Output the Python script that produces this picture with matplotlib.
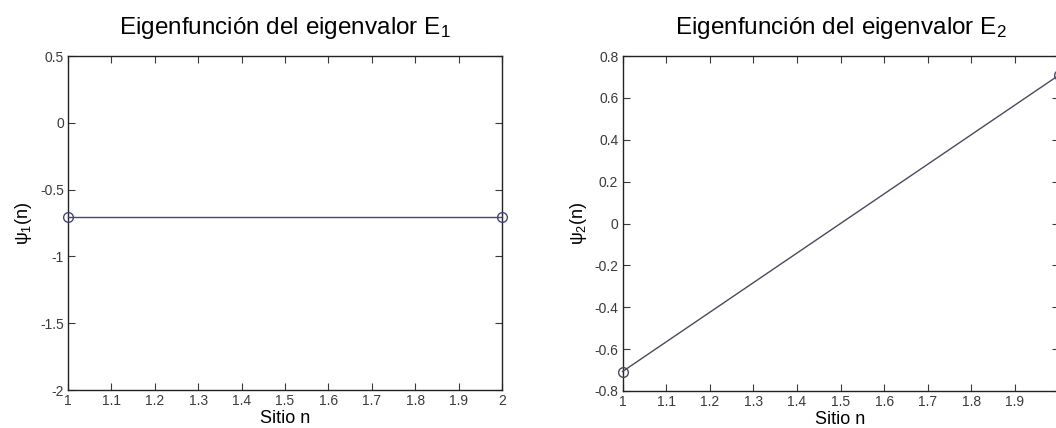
import matplotlib
matplotlib.use("Agg")
import matplotlib.pyplot as plt
import numpy as np

# Data
sites = [1, 2]
psi1 = [-0.7071, -0.7071]
psi2 = [-0.7071, 0.7071]
xticks = [1, 1.1, 1.2, 1.3, 1.4, 1.5, 1.6, 1.7, 1.8, 1.9, 2]
xticklabels = ["1", "1.1", "1.2", "1.3", "1.4", "1.5", "1.6", "1.7", "1.8", "1.9", "2"]
yticks1 = [-2, -1.5, -1, -0.5, 0, 0.5]
yticklabels1 = ["-2", "-1.5", "-1", "-0.5", "0", "0.5"]
yticks2 = [-0.8, -0.6, -0.4, -0.2, 0, 0.2, 0.4, 0.6, 0.8]
yticklabels2 = ["-0.8", "-0.6", "-0.4", "-0.2", "0", "0.2", "0.4", "0.6", "0.8"]
titles = ["Eigenfunción del eigenvalor E$_1$", "Eigenfunción del eigenvalor E$_2$"]
ylabels = [r"$\psi_1$(n)", r"$\psi_2$(n)"]
xlabel = "Sitio n"

plt.rcParams['font.family'] = ['Liberation Sans', 'DejaVu Sans']
plt.rcParams['mathtext.fontset'] = 'custom'
plt.rcParams['mathtext.rm'] = 'Liberation Sans'
plt.rcParams['mathtext.it'] = 'Liberation Sans'

fig = plt.figure(figsize=(10.56, 4.28), dpi=100)
ax1 = fig.add_axes([68/1056, (428-390)/428, 434/1056, (390-56)/428])
ax2 = fig.add_axes([622.5/1056, (428-391)/428, 436/1056, (391-56)/428])

specs = [
    (ax1, psi1, yticks1, yticklabels1, (-2, 0.5), "#45457e", titles[0], ylabels[0]),
    (ax2, psi2, yticks2, yticklabels2, (-0.8, 0.8), "#4a4a5e", titles[1], ylabels[1]),
]
for ax, ys, yt, ytl, ylim, col, title, ylab in specs:
    ax.plot(sites, ys, color=col, lw=1.0, marker='o', markersize=7,
            markerfacecolor='none', markeredgecolor=col, markeredgewidth=1.0,
            clip_on=False, zorder=3)
    ax.set_xlim(1, 2)
    ax.set_ylim(*ylim)
    ax.set_xticks(xticks)
    ax.set_xticklabels(xticklabels)
    ax.set_yticks(yt)
    ax.set_yticklabels(ytl)
    ax.tick_params(direction='in', top=True, right=True, length=5, width=0.8,
                   labelsize=10, colors='#3a3a3a', pad=3)
    for s in ax.spines.values():
        s.set_linewidth(1.0)
        s.set_color('#222222')
    ax.set_title(title, fontsize=17.5, pad=16)
    ax.set_xlabel(xlabel, fontsize=13, labelpad=1)
    ax.set_ylabel(ylab, fontsize=13, labelpad=4)

# the right panel extends past the image edge; its last tick label is not visible
ax2.get_xticklabels()[-1].set_visible(False)

fig.savefig("out.png", dpi=100)
